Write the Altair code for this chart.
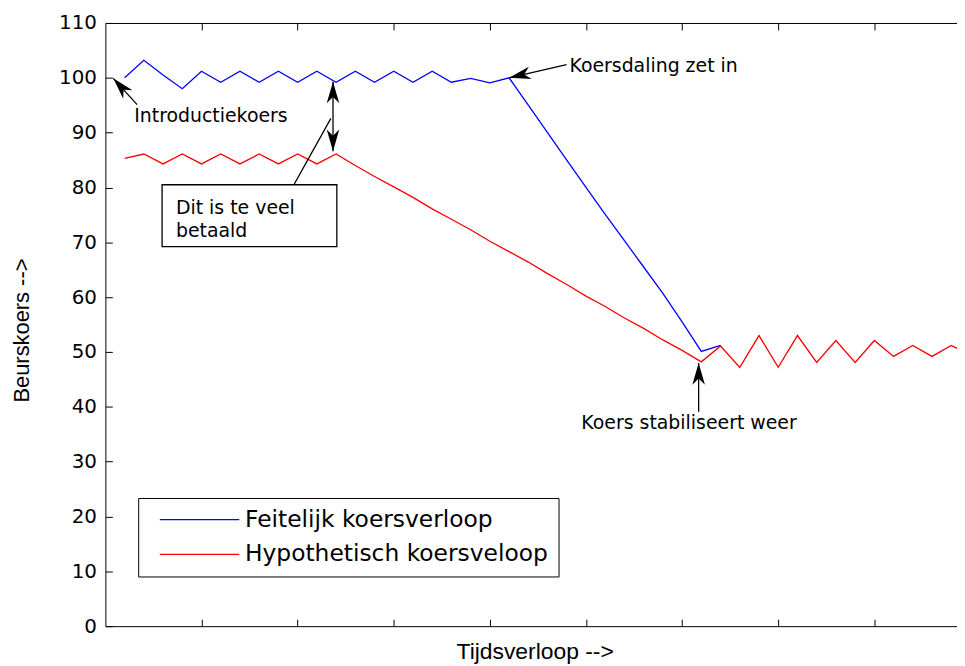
import math
import altair as alt
import pandas as pd

# ---------------- data ----------------
series_names = ["Feitelijk koersverloop", "Hypothetisch koersveloop"]

blue_steps = list(range(1, 33))
blue_values = [100, 103.2, 100.5, 98, 101.2, 99.2, 101.2, 99.2, 101.2, 99.2, 101.2, 99.2,
               101.2, 99.2, 101.2, 99.2, 101.2, 99.2, 99.9, 99.1, 100, 95.0, 90.0, 85.0,
               80.0, 75.1, 70.3, 65.5, 60.7, 55.5, 50.1, 51.2]

red_steps = list(range(1, 46))
red_values = [85.3, 86.1, 84.3, 86.1, 84.3, 86.1, 84.3, 86.1, 84.3, 86.1, 84.3, 86.1,
              84.0, 82.0, 80.1, 78.2, 76.1, 74.2, 72.3, 70.2, 68.3, 66.4, 64.3, 62.3,
              60.2, 58.3, 56.2, 54.3, 52.2, 50.3, 48.2,
              51.1, 47.2, 53.0, 47.2, 53.0, 48.1, 52.1, 48.1, 52.1, 49.2, 51.2, 49.2,
              51.2, 49.5]

x_ticks = [5, 10, 15, 20, 25, 30, 35, 40]
y_ticks = [0, 10, 20, 30, 40, 50, 60, 70, 80, 90, 100, 110]

# annotation arrows (tail -> tip), in data units
shaft_x1 = [1.65, 11.84, 9.82, 23.99, 30.86]
shaft_y1 = [95.1, 99.3, 80.6, 102.4, 39.1]
shaft_x2 = [0.41, 11.84, 11.73, 21.0, 30.86]
shaft_y2 = [99.9, 86.6, 92.6, 100.0, 48.0]

head_x = [0.41, 11.84, 11.84, 21.0, 30.86]
head_y = [99.9, 99.3, 86.6, 100.0, 48.0]
head_from_x = [1.65, 11.84, 11.84, 23.99, 30.86]
head_from_y = [95.1, 86.6, 99.3, 102.4, 39.1]

label_text = ["Introductiekoers", "Dit is te veel", "betaald",
              "Koersdaling zet in", "Koers stabiliseert weer"]
label_x = [1.50, 3.67, 3.67, 24.14, 24.76]
label_y = [91.9, 75.2, 71.0, 101.1, 35.9]

box_x1 = [2.95]
box_x2 = [12.04]
box_y1 = [69.2]
box_y2 = [80.5]

# ---------------- layout ----------------
W, H = 857, 607
XMAX, YMAX = 44.3, 110
sx, sy = W / XMAX, H / YMAX

lines_df = pd.concat([
    pd.DataFrame({"t": blue_steps, "koers": blue_values, "serie": series_names[0]}),
    pd.DataFrame({"t": red_steps, "koers": red_values, "serie": series_names[1]}),
])
shaft_df = pd.DataFrame({"x": shaft_x1, "y": shaft_y1, "x2": shaft_x2, "y2": shaft_y2})
angles = []
for hx, hy, fx, fy in zip(head_x, head_y, head_from_x, head_from_y):
    dx = (hx - fx) * sx
    dy = -(hy - fy) * sy
    angles.append(math.degrees(math.atan2(dx, -dy)) % 360)
head_df = pd.DataFrame({"x": head_x, "y": head_y, "angle": angles})
text_df = pd.DataFrame({"x": label_x, "y": label_y, "label": label_text})
box_df = pd.DataFrame({"x": box_x1, "x2": box_x2, "y": box_y1, "y2": box_y2})

xscale = alt.Scale(domain=[0, XMAX], nice=False, zero=False)
yscale = alt.Scale(domain=[0, YMAX], nice=False, zero=False)

TICK_FONT = "DejaVu Sans"
TITLE_FONT = "Liberation Sans"

x_axis_main = alt.Axis(orient="bottom", values=x_ticks, labels=False, ticks=False, tickSize=0,
                       grid=False, domain=True, domainColor="black", domainWidth=1,
                       title="Tijdsverloop -->", titleFont=TITLE_FONT, titleFontSize=23,
                       titleFontWeight="normal", titleColor="black", titleX=432, titleY=33,
                       titleAlign="center", titleBaseline="alphabetic")
y_axis_main = alt.Axis(orient="left", values=y_ticks, ticks=False, tickSize=0, labelPadding=9,
                       labelFont=TICK_FONT, labelFontSize=20, labelColor="black", grid=False,
                       domain=True, domainColor="black", domainWidth=1,
                       title="Beurskoers -->", titleFont=TITLE_FONT, titleFontSize=22,
                       titleFontWeight="normal", titleColor="black", titleAngle=270,
                       titleX=-84, titleY=309, titleAlign="center", titleBaseline="middle")
x_axis_bottom_ticks = alt.Axis(orient="top", offset=-H, values=x_ticks, labels=False, ticks=True,
                               tickSize=7, tickColor="black", domain=False, grid=False, title=None)
y_axis_left_ticks = alt.Axis(orient="right", offset=-W, values=y_ticks, labels=False, ticks=True,
                             tickSize=7, tickColor="black", domain=False, grid=False, title=None)
x_axis_top = alt.Axis(orient="bottom", offset=-H, values=x_ticks, labels=False, ticks=True,
                      tickSize=7, tickColor="black", domain=True, domainColor="black",
                      grid=False, title=None)

color = alt.Color(
    "serie:N",
    scale=alt.Scale(domain=series_names, range=["#0000ff", "#ff0000"]),
    legend=alt.Legend(title=None, orient="none", legendX=33, legendY=478,
                      symbolType="M0,0 L16,0", symbolSize=100, symbolStrokeWidth=1.3,
                      labelOffset=74, padding=10, rowPadding=10, strokeColor="black",
                      fillColor="white", labelFont=TICK_FONT, labelFontSize=23.5,
                      labelColor="black", labelLimit=500),
)

lines = alt.Chart(lines_df).mark_line(strokeWidth=1.3, clip=True).encode(
    x=alt.X("t:Q", scale=xscale, axis=x_axis_main),
    y=alt.Y("koers:Q", scale=yscale, axis=y_axis_main),
    color=color,
    detail="serie:N",
)

box = alt.Chart(box_df).mark_rect(fill="white", stroke="black", strokeWidth=1.3).encode(
    x=alt.X("x:Q", scale=xscale, axis=None), x2="x2:Q",
    y=alt.Y("y:Q", scale=yscale, axis=None), y2="y2:Q",
)

shafts = alt.Chart(shaft_df).mark_rule(color="black", strokeWidth=1.3).encode(
    x=alt.X("x:Q", scale=xscale, axis=x_axis_bottom_ticks), x2="x2:Q",
    y=alt.Y("y:Q", scale=yscale, axis=y_axis_left_ticks), y2="y2:Q",
)

heads = alt.Chart(head_df).mark_point(
    shape="M0,0 L0.55,1.9 L0,1.35 L-0.55,1.9 Z", filled=True, color="black",
    opacity=1, size=529, strokeWidth=0,
).encode(
    x=alt.X("x:Q", scale=xscale, axis=x_axis_top),
    y=alt.Y("y:Q", scale=yscale, axis=None),
    angle=alt.Angle("angle:Q", scale=None),
)

texts = alt.Chart(text_df).mark_text(
    align="left", baseline="alphabetic", font=TICK_FONT, fontSize=19, color="black"
).encode(
    x=alt.X("x:Q", scale=xscale, axis=None),
    y=alt.Y("y:Q", scale=yscale, axis=None),
    text="label:N",
)

chart = alt.layer(lines, box, shafts, heads, texts).resolve_axis(
    x="independent", y="independent"
).properties(
    width=W, height=H,
    autosize=alt.AutoSizeParams(type="none"),
    padding={"left": 98, "top": 13, "right": 0, "bottom": 38},
    background="white",
).configure_view(stroke=None)

chart.save("out.html", embed_options={"renderer": "svg", "actions": False})
